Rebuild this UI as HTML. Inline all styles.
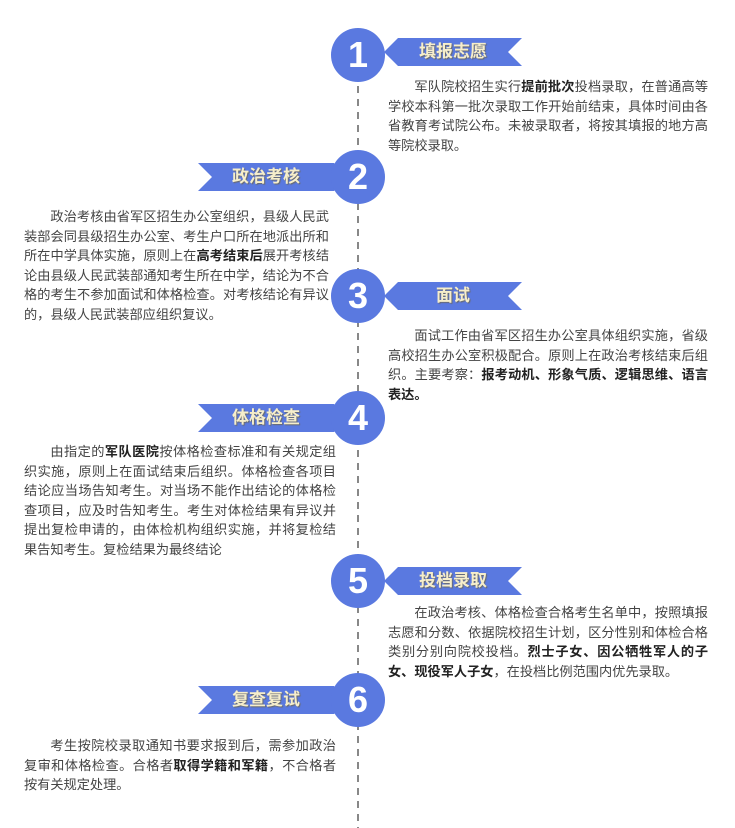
<!DOCTYPE html>
<html><head><meta charset="utf-8"><style>
body{margin:0;width:735px;height:828px;background:#fff;position:relative;overflow:hidden;font-family:"Liberation Sans","Noto Sans CJK SC",sans-serif;}
.t{position:absolute;font-size:13.2px;line-height:19.5px;color:#444;text-indent:2em;text-align:justify;}
.t b{color:#222;}
.lbl{position:absolute;font-size:17px;font-weight:bold;color:#f6eecb;text-shadow:1px 1px 1px #6a6a6a;width:140px;text-align:center;line-height:28px;}
.num{position:absolute;width:54px;height:54px;border-radius:50%;background:#5a79e0;color:#fff;font-size:36px;font-weight:bold;text-align:center;line-height:54px;}
</style></head><body>
<svg width="735" height="828" style="position:absolute;left:0;top:0">
<line x1="358" y1="60" x2="358" y2="828" stroke="#888" stroke-width="2" stroke-dasharray="7,6"/>
<g fill="#5a79e0">
<polygon points="384,52 398,38 522,38 508,52 522,66 398,66"/>
<polygon points="384,296 398,282 522,282 508,296 522,310 398,310"/>
<polygon points="384,581 398,567 522,567 508,581 522,595 398,595"/>
<polygon points="198,163 334,163 348,177 334,191 198,191 212,177"/>
<polygon points="198,404 334,404 348,418 334,432 198,432 212,418"/>
<polygon points="198,686 334,686 348,700 334,714 198,714 212,700"/>
</g>
</svg>
<div class="num" style="left:331px;top:28px">1</div>
<div class="num" style="left:331px;top:150px">2</div>
<div class="num" style="left:331px;top:269px">3</div>
<div class="num" style="left:331px;top:391px">4</div>
<div class="num" style="left:331px;top:554px">5</div>
<div class="num" style="left:331px;top:673px">6</div>
<div class="lbl" style="left:383px;top:38px">填报志愿</div>
<div class="lbl" style="left:196px;top:163px">政治考核</div>
<div class="lbl" style="left:383px;top:282px">面试</div>
<div class="lbl" style="left:196px;top:404px">体格检查</div>
<div class="lbl" style="left:383px;top:567px">投档录取</div>
<div class="lbl" style="left:196px;top:686px">复查复试</div>
<div class="t" style="left:388px;top:77px;width:320px">军队院校招生实行<b>提前批次</b>投档录取，在普通高等学校本科第一批次录取工作开始前结束，具体时间由各省教育考试院公布。未被录取者，将按其填报的地方高等院校录取。</div>
<div class="t" style="left:24px;top:207px;width:305px">政治考核由省军区招生办公室组织，县级人民武装部会同县级招生办公室、考生户口所在地派出所和所在中学具体实施，原则上在<b>高考结束后</b>展开考核结论由县级人民武装部通知考生所在中学，结论为不合格的考生不参加面试和体格检查。对考核结论有异议的，县级人民武装部应组织复议。</div>
<div class="t" style="left:388px;top:326px;width:320px">面试工作由省军区招生办公室具体组织实施，省级高校招生办公室积极配合。原则上在政治考核结束后组织。主要考察：<b>报考动机、形象气质、逻辑思维、语言表达。</b></div>
<div class="t" style="left:24px;top:442px;width:312px">由指定的<b>军队医院</b>按体格检查标准和有关规定组织实施，原则上在面试结束后组织。体格检查各项目结论应当场告知考生。对当场不能作出结论的体格检查项目，应及时告知考生。考生对体检结果有异议并提出复检申请的，由体检机构组织实施，并将复检结果告知考生。复检结果为最终结论</div>
<div class="t" style="left:388px;top:603px;width:320px">在政治考核、体格检查合格考生名单中，按照填报志愿和分数、依据院校招生计划，区分性别和体检合格类别分别向院校投档。<b>烈士子女、因公牺牲军人的子女、现役军人子女</b>，在投档比例范围内优先录取。</div>
<div class="t" style="left:24px;top:736px;width:312px">考生按院校录取通知书要求报到后，需参加政治复审和体格检查。合格者<b>取得学籍和军籍</b>，不合格者按有关规定处理。</div>
</body></html>
